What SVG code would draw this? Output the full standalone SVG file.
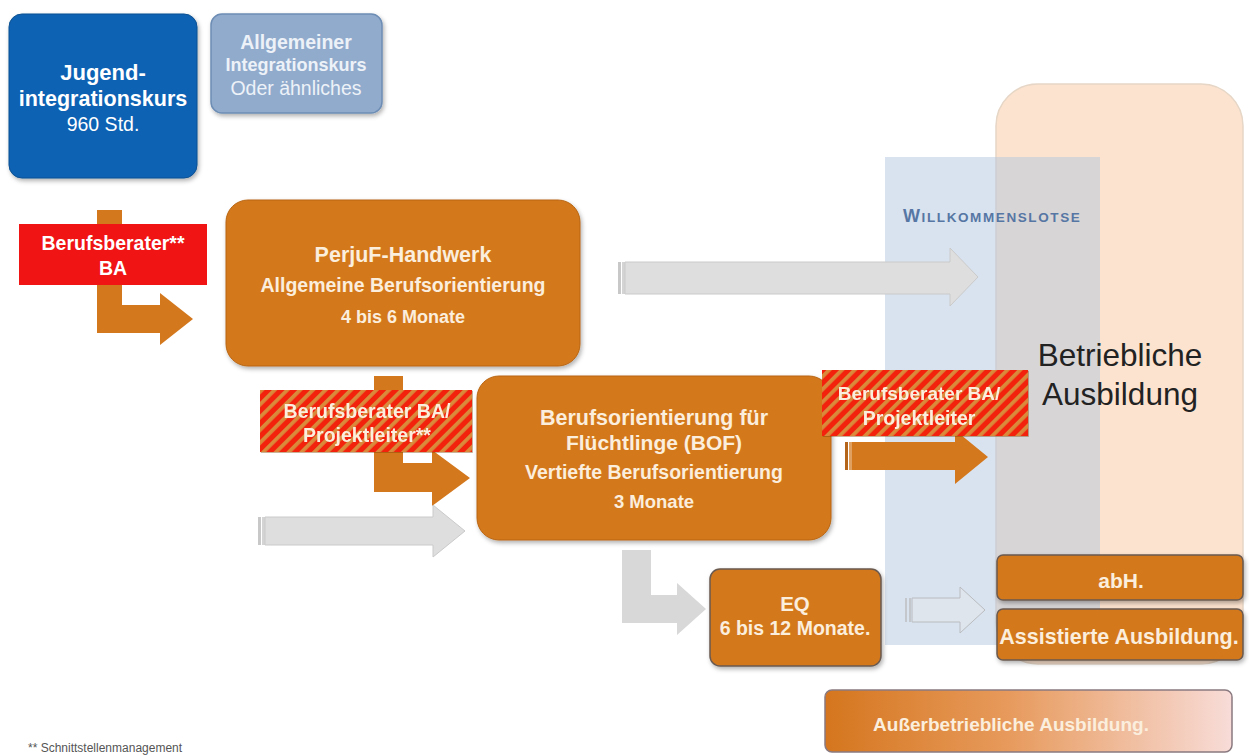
<svg xmlns="http://www.w3.org/2000/svg" width="1249" height="755" viewBox="0 0 1249 755">
<style>
text{font-family:"Liberation Sans",Arial,sans-serif;text-anchor:middle}
.b{font-weight:bold}
.ow{fill:#fbeedd}
.w{fill:#ffffff}
.org{fill:#d4781e}
.obox{fill:#d4781e;stroke:#b86410;stroke-width:1}
.gray{fill:#dedede;stroke:#cacaca;stroke-width:1}
.tail{fill:#c8c8c8}
</style>
<defs>
<pattern id="stripes" width="9" height="9" patternUnits="userSpaceOnUse" patternTransform="rotate(45)">
<rect width="9" height="9" fill="#f2200f"/>
<rect width="3.8" height="9" fill="#d98a3a"/>
</pattern>
<filter id="sh" x="-10%" y="-10%" width="125%" height="130%">
<feDropShadow dx="1.5" dy="2.5" stdDeviation="2" flood-color="#000" flood-opacity="0.3"/>
</filter>
<filter id="ts" x="-5%" y="-20%" width="110%" height="150%">
<feDropShadow dx="0.8" dy="0.8" stdDeviation="0.6" flood-color="#7a3a00" flood-opacity="0.5"/>
</filter>
<linearGradient id="ausser" x1="0" y1="0" x2="1" y2="0">
<stop offset="0" stop-color="#d5761e"/>
<stop offset="0.45" stop-color="#e79a5c"/>
<stop offset="1" stop-color="#f8dcd8"/>
</linearGradient>
</defs>

<g id="panel-betrieblich">
<rect x="996" y="84" width="247" height="580" rx="42" fill="#fce3cf" stroke="#e6d6c6" stroke-width="1.5"/>
</g>
<g id="panel-willkommenslotse">
<rect x="885" y="157" width="215" height="488" fill="#b4c8e0" fill-opacity="0.5"/>
<text x="903" y="222" style="text-anchor:start;font-weight:bold;letter-spacing:1.6px" fill="#5676a4"><tspan font-size="18">W</tspan><tspan font-size="13.5">ILLKOMMENSLOTSE</tspan></text>
</g>

<g id="connectors">
<path class="org" d="M97,210 H122 V305 H160 V293 L193,319 L160,345 V333 H97 Z"/>
<g>
<rect class="tail" x="618" y="262" width="3" height="32"/>
<rect fill="#d4d4d4" x="622" y="262" width="3" height="32"/>
<path class="gray" d="M625,262 H950 V248 L978,277 L950,306 V294 H625 Z"/>
</g>
<path class="org" d="M374,376 H403 V463 H432 V450 L470,478 L432,506 V492 H374 Z"/>
<g>
<rect class="tail" x="258" y="517" width="3" height="28"/>
<rect fill="#d4d4d4" x="262" y="517" width="3" height="28"/>
<path class="gray" d="M265,517 H433 V505 L465,531 L433,557 V545 H265 Z"/>
</g>
<g>
<rect fill="#b5651a" x="845" y="442" width="3" height="28"/>
<rect fill="#e0a060" x="849" y="442" width="3" height="28"/>
<path class="org" d="M852,442 H955 V430 L988,457 L955,484 V470 H852 Z"/>
</g>
<path fill="#d8d8d8" d="M622,550 H651 V595 H677 V583 L706,609 L677,635 V623 H622 Z"/>
<g>
<rect fill="#c4c8cc" x="905" y="598" width="2" height="24"/>
<rect fill="#c4c8cc" x="909" y="598" width="2" height="24"/>
<path d="M912,598 H960 V587 L985,610 L960,633 V622 H912 Z" fill="#e2e6ea" fill-opacity="0.6" stroke="#b9bcc0" stroke-width="1"/>
</g>
</g>

<g id="jugendintegrationskurs">
<rect x="9" y="14" width="188" height="164" rx="13" fill="#0862b4" stroke="#0a4f90" stroke-width="1" filter="url(#sh)"/>
<text class="b w" x="103" y="80" font-size="22">Jugend-</text>
<text class="b w" x="103" y="106" font-size="21.5">integrationskurs</text>
<text class="w" x="103" y="131" font-size="19.5">960 Std.</text>
</g>

<g id="allgemeiner-integrationskurs">
<rect x="211" y="14" width="171" height="99" rx="11" fill="#91abcd" stroke="#6d8db4" stroke-width="1.5" filter="url(#sh)"/>
<text class="b" x="296" y="49" font-size="19.5" fill="#edf2f8">Allgemeiner</text>
<text class="b" x="296" y="71" font-size="18" fill="#edf2f8">Integrationskurs</text>
<text x="296" y="95" font-size="19.5" fill="#edf2f8">Oder ähnliches</text>
</g>

<g id="berufsberater-ba">
<rect x="19" y="224" width="188" height="61" fill="#f01414"/>
<text class="b w" x="113" y="250" font-size="19.5">Berufsberater**</text>
<text class="b w" x="113" y="275" font-size="19.5">BA</text>
</g>

<g id="perjuf-handwerk">
<rect class="obox" x="226" y="200" width="354" height="166" rx="22" filter="url(#sh)"/>
<text class="b ow" x="403" y="262" font-size="21.5">PerjuF-Handwerk</text>
<text class="b ow" x="403" y="292" font-size="19.5">Allgemeine Berufsorientierung</text>
<text class="b ow" x="403" y="323" font-size="18">4 bis 6 Monate</text>
</g>

<g id="berufsberater-projektleiter-1" filter="url(#ts)">
<rect x="260" y="390" width="212" height="62" fill="url(#stripes)"/>
<text class="b ow" x="367" y="418" font-size="19.5">Berufsberater BA/</text>
<text class="b ow" x="367" y="442" font-size="19.5">Projektleiter**</text>
</g>

<g id="bof">
<rect class="obox" x="477" y="376" width="354" height="164" rx="22" filter="url(#sh)"/>
<text class="b ow" x="654" y="425" font-size="21.5">Berufsorientierung für</text>
<text class="b ow" x="654" y="450" font-size="21">Flüchtlinge (BOF)</text>
<text class="b ow" x="654" y="479" font-size="19.5">Vertiefte Berufsorientierung</text>
<text class="b ow" x="654" y="508" font-size="18.5">3 Monate</text>
</g>

<g id="berufsberater-projektleiter-2" filter="url(#ts)">
<rect x="822" y="370" width="206" height="66" fill="url(#stripes)"/>
<text class="b ow" x="919" y="400" font-size="19">Berufsberater BA/</text>
<text class="b ow" x="919" y="425" font-size="19.5">Projektleiter</text>
</g>

<g id="eq">
<rect x="710" y="569" width="171" height="97" rx="10" fill="#d4781e" stroke="#6a5a50" stroke-width="1.5" filter="url(#sh)"/>
<text class="b ow" x="795" y="611" font-size="20.5">EQ</text>
<text class="b ow" x="795" y="635" font-size="19.5">6 bis 12 Monate.</text>
</g>

<g id="abh">
<rect x="997" y="555" width="246" height="45" rx="6" fill="#d4781e" stroke="#6a5a50" stroke-width="1.5" filter="url(#sh)"/>
<text class="b ow" x="1121" y="588" font-size="21">abH.</text>
</g>

<g id="assistierte-ausbildung">
<rect x="997" y="609" width="246" height="51" rx="6" fill="#d4781e" stroke="#6a5a50" stroke-width="1.5" filter="url(#sh)"/>
<text class="b ow" x="1119" y="644" font-size="21.5">Assistierte Ausbildung.</text>
</g>

<g id="betriebliche-ausbildung-label">
<text x="1120" y="366" font-size="31.5" fill="#222">Betriebliche</text>
<text x="1120" y="405" font-size="31.5" fill="#222">Ausbildung</text>
</g>

<g id="ausserbetriebliche-ausbildung">
<rect x="825" y="690" width="407" height="62" rx="7" fill="url(#ausser)" stroke="#8a7a80" stroke-width="1.5"/>
<text class="b ow" x="1011" y="731" font-size="19">Außerbetriebliche Ausbildung.</text>
</g>

<g id="footnote">
<text x="28" y="752" font-size="12" fill="#555" style="text-anchor:start">** Schnittstellenmanagement</text>
</g>
</svg>
